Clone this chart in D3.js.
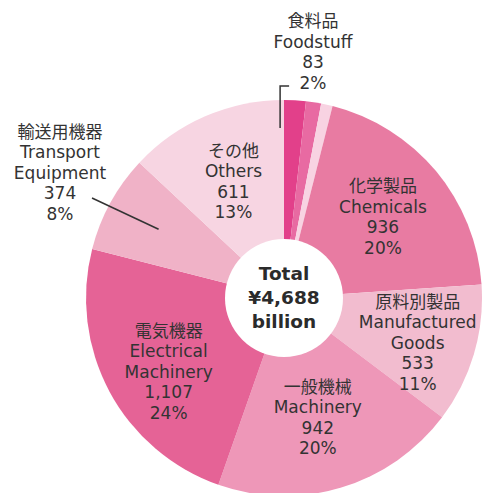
<!DOCTYPE html>
<html>
<head>
<meta charset="utf-8">
<script src="https://cdn.jsdelivr.net/npm/d3@7"></script>
<style>
  body { margin: 0; background: #fff; }
  svg { display: block; }
  .lbl { font-family: "DejaVu Sans", "Noto Sans CJK JP", sans-serif; font-size: 17px; fill: #333; }
  .jp { font-family: "Noto Sans CJK JP", sans-serif; font-size: 17px; }
  .total { font-family: "DejaVu Sans", sans-serif; font-size: 18.5px; font-weight: bold; fill: #2b2b2b; }
</style>
</head>
<body>
<svg></svg>
<script>
// export breakdown, billion yen (clockwise from 12 o'clock)
var jpNames = ["食料品", "", "", "化学製品", "原料別製品", "一般機械", "電気機器", "輸送用機器", "その他"];
var enNames = ["Foodstuff", "", "", "Chemicals", "Manufactured|Goods", "Machinery", "Electrical|Machinery", "Transport|Equipment", "Others"];
var values = [83, 58, 44, 936, 533, 942, 1107, 374, 611];
var valueText = ["83", "", "", "936", "533", "942", "1,107", "374", "611"];
var pctText = ["2%", "", "", "20%", "11%", "20%", "24%", "8%", "13%"];
var totalText = ["Total", "¥4,688", "billion"];

var colors = ["#e2408a", "#e86aa2", "#f8d3e2", "#e87ba2", "#f2bccf", "#ee97b8", "#e56396", "#f0b2c7", "#f7d5e2"];

var width = 483, height = 493;
var cx = 284, cy = 298, outerR = 198, innerR = 59;

var svg = d3.select("svg").attr("width", width).attr("height", height);
var g = svg.append("g").attr("transform", "translate(" + cx + "," + cy + ")");

var pie = d3.pie().sort(null).value(function (d) { return d; });
var arcs = pie(values);
var arc = d3.arc().innerRadius(0).outerRadius(outerR);

g.selectAll("path.slice")
  .data(arcs)
  .enter().append("path")
  .attr("class", "slice")
  .attr("d", arc)
  .attr("fill", function (d, i) { return colors[i]; });

g.append("circle").attr("r", innerR).attr("fill", "#fff");

// label placement: radius + angle nudge (degrees) for inside labels
var inside = { 3: [128, 0.5], 4: [141, 2], 5: [124, 1], 6: [137, -4.5], 8: [127, 0] };
var lineH = 20.5;

function lines(i) {
  var out = [jpNames[i]];
  enNames[i].split("|").forEach(function (s) { out.push(s); });
  out.push(valueText[i], pctText[i]);
  return out;
}

function pointAt(d, r, nudge) {
  var a = (d.startAngle + d.endAngle) / 2 + (nudge || 0) * Math.PI / 180;
  return [r * Math.sin(a), -r * Math.cos(a)];
}

function drawBlock(x, y, ls) {
  var t = g.append("text").attr("class", "lbl").attr("text-anchor", "middle");
  var y0 = y - (ls.length - 1) * lineH / 2;
  ls.forEach(function (s, k) {
    t.append("tspan").attr("x", x).attr("y", y0 + k * lineH).attr("dy", "0.35em")
      .classed("jp", k == 0).text(s);
  });
}

Object.keys(inside).forEach(function (k) {
  var i = +k;
  var p = pointAt(arcs[i], inside[k][0], inside[k][1]);
  drawBlock(p[0], p[1], lines(i));
});

// outside labels with leader lines
var lead = d3.line();
// foodstuff
var fs = pointAt(arcs[0], 170, -4.5);
drawBlock(29, -246, lines(0));
g.append("path")
  .attr("d", lead([fs, [fs[0], -212], [fs[0] + 9, -212]]))
  .attr("fill", "none").attr("stroke", "#333").attr("stroke-width", 1.5);

// transport
var tp = pointAt(arcs[7], 143, 0);
drawBlock(-224, -125, lines(7));
g.append("path")
  .attr("d", lead([tp, [-192, -100]]))
  .attr("fill", "none").attr("stroke", "#333").attr("stroke-width", 1.5);

// center total
var tt = g.append("text").attr("class", "total").attr("text-anchor", "middle");
totalText.forEach(function (s, k) {
  tt.append("tspan").attr("x", 0).attr("y", -24 + k * 24).attr("dy", "0.35em").text(s);
});
</script>
</body>
</html>
